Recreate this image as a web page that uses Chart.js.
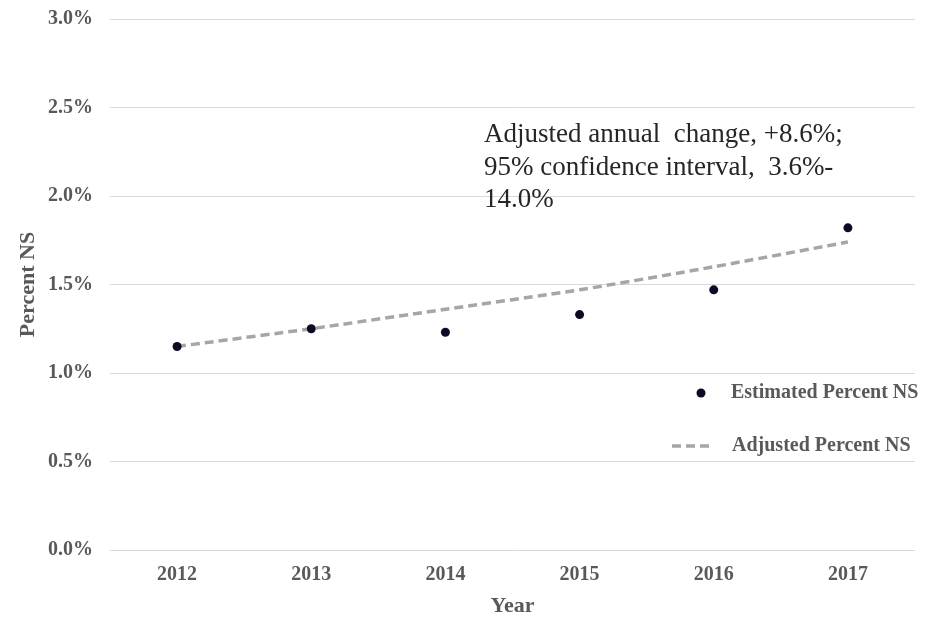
<!DOCTYPE html>
<html>
<head>
<meta charset="utf-8">
<title>Percent NS by Year</title>
<script src="https://cdn.jsdelivr.net/npm/chart.js@4.4.0/dist/chart.umd.min.js"></script>
<style>
  html, body { margin: 0; padding: 0; background: #fff; }
  #wrap { width: 930px; height: 617px; }
</style>
</head>
<body>
<div id="wrap"><canvas id="ns-chart" width="930" height="617"></canvas></div>
<script>
// Data
const years = ['2012', '2013', '2014', '2015', '2016', '2017'];
const estimatedPct = [1.15, 1.25, 1.23, 1.33, 1.47, 1.82];
const adjustedPct = [1.15, 1.25, 1.36, 1.47, 1.60, 1.74];
const yTicks = [0, 0.5, 1.0, 1.5, 2.0, 2.5, 3.0];
const noteLines = [
	'Adjusted annual  change, +8.6%;',
	'95% confidence interval,  3.6%-',
	'14.0%'
];

const SERIF = "'Liberation Serif', 'Times New Roman', serif";
const GREY_TEXT = '#595959';
const DOT_COLOR = '#0b0b26';
const DASH_COLOR = '#a6a6a6';
const DASH = [9, 5];

// Text box with the trend estimate
const notePlugin = {
	id: 'note',
	afterDraw(chart) {
		const ctx = chart.ctx;
		const area = chart.chartArea;
		ctx.save();
		ctx.font = '27px ' + SERIF;
		ctx.fillStyle = '#262626';
		ctx.textAlign = 'left';
		ctx.textBaseline = 'alphabetic';
		const x = area.left + 374;
		let y = area.top + 123;
		noteLines.forEach(line => {
			ctx.fillText(line, x, y);
			y += 32.5;
		});
		ctx.restore();
	}
};

// Legend drawn inside the plot area, lower right
const insideLegend = {
	id: 'insideLegend',
	afterDraw(chart) {
		const ctx = chart.ctx;
		const area = chart.chartArea;
		const sets = chart.data.datasets;
		ctx.save();
		ctx.font = 'bold 20px ' + SERIF;
		ctx.textBaseline = 'middle';

		// marker row
		let y = area.top + 374;
		ctx.beginPath();
		ctx.arc(area.left + 591, y, 4.5, 0, Math.PI * 2);
		ctx.fillStyle = DOT_COLOR;
		ctx.fill();
		ctx.fillStyle = GREY_TEXT;
		ctx.fillText(sets[0].label, area.left + 621, y);

		// dashed row
		y = area.top + 427;
		ctx.beginPath();
		ctx.setLineDash(DASH);
		ctx.lineWidth = 3.5;
		ctx.strokeStyle = DASH_COLOR;
		ctx.moveTo(area.left + 562, y);
		ctx.lineTo(area.left + 600, y);
		ctx.stroke();
		ctx.setLineDash([]);
		ctx.fillText(sets[1].label, area.left + 622, y);
		ctx.restore();
	}
};

const ctx = document.getElementById('ns-chart').getContext('2d');
new Chart(ctx, {
	type: 'line',
	data: {
		labels: years,
		datasets: [{
			label: 'Estimated Percent NS',
			data: estimatedPct,
			showLine: false,
			pointRadius: 4.5,
			pointBackgroundColor: DOT_COLOR,
			pointBorderColor: DOT_COLOR,
			pointBorderWidth: 0
		}, {
			label: 'Adjusted Percent NS',
			data: adjustedPct,
			borderColor: DASH_COLOR,
			borderWidth: 3.5,
			borderDash: DASH,
			pointRadius: 0,
			tension: 0.2,
			fill: false
		}]
	},
	options: {
		responsive: false,
		animation: false,
		layout: {
			padding: { top: 19, right: 15, left: 0, bottom: 0 }
		},
		plugins: {
			legend: { display: false },
			tooltip: { enabled: false }
		},
		scales: {
			x: {
				offset: true,
				grid: { display: false, drawTicks: false },
				border: { display: false },
				ticks: {
					color: GREY_TEXT,
					font: { family: SERIF, size: 20, weight: 'bold' },
					padding: 13
				},
				title: {
					display: true,
					text: 'Year',
					color: GREY_TEXT,
					font: { family: SERIF, size: 22, weight: 'bold', lineHeight: 1 },
					padding: { top: 0, bottom: 0 }
				},
				afterFit(scale) {
					scale.height = 67;
				}
			},
			y: {
				min: 0,
				max: 3,
				grid: { color: '#d9d9d9', lineWidth: 1, drawTicks: false },
				border: { display: false },
				ticks: {
					color: GREY_TEXT,
					font: { family: SERIF, size: 20, weight: 'bold' },
					padding: 17,
					callback: v => v.toFixed(1) + '%'
				},
				afterBuildTicks(scale) {
					scale.ticks = yTicks.map(v => ({ value: v }));
				},
				title: {
					display: true,
					text: 'Percent NS',
					color: GREY_TEXT,
					font: { family: SERIF, size: 22, weight: 'bold', lineHeight: 1 },
					padding: { top: 17, bottom: 0 }
				},
				afterFit(scale) {
					scale.width = 110;
					// top label may overhang; layout padding already covers it
					scale.paddingTop = 0;
					scale.paddingBottom = 0;
				}
			}
		}
	},
	plugins: [notePlugin, insideLegend]
});
</script>
</body>
</html>
